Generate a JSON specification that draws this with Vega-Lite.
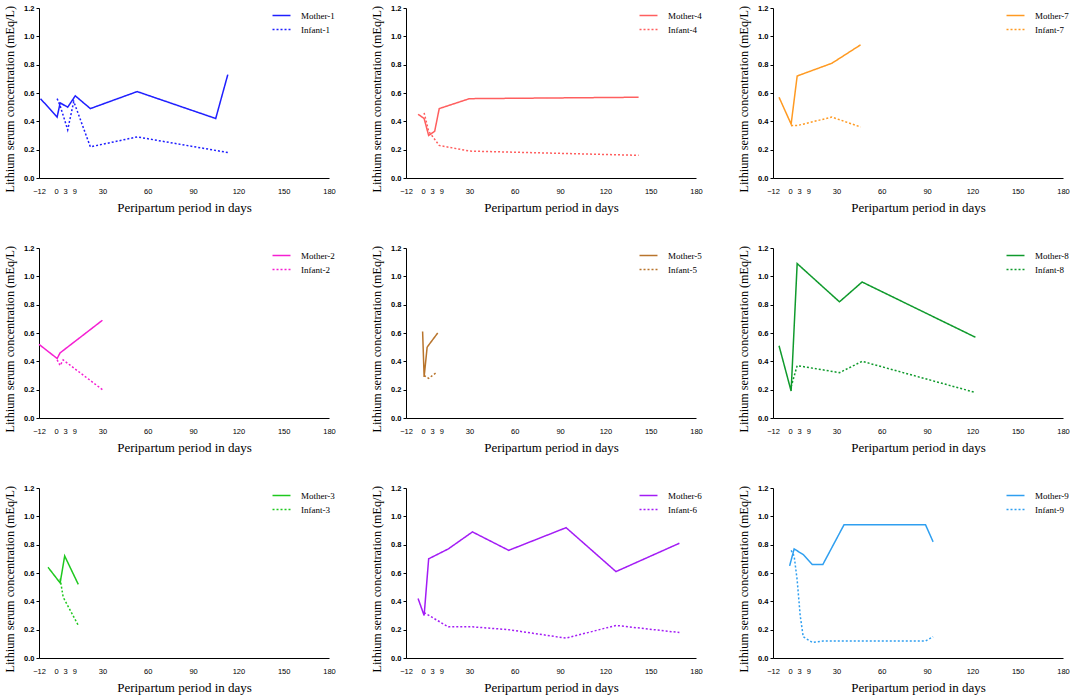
{
  "$schema": "https://vega.github.io/schema/vega-lite/v6.json",
  "padding": {"left": 3, "top": 4, "right": 0, "bottom": 0},
  "data": {"values": [
    {"p":1,"s":"Mother-1","d":-11,"c":0.56},{"p":1,"s":"Mother-1","d":0,"c":0.43},{"p":1,"s":"Mother-1","d":2,"c":0.53},{"p":1,"s":"Mother-1","d":7,"c":0.50},{"p":1,"s":"Mother-1","d":12,"c":0.58},{"p":1,"s":"Mother-1","d":22,"c":0.49},{"p":1,"s":"Mother-1","d":53,"c":0.61},{"p":1,"s":"Mother-1","d":105,"c":0.42},{"p":1,"s":"Mother-1","d":113,"c":0.73},
    {"p":1,"s":"Infant-1","d":0,"c":0.56},{"p":1,"s":"Infant-1","d":2,"c":0.51},{"p":1,"s":"Infant-1","d":7,"c":0.34},{"p":1,"s":"Infant-1","d":11,"c":0.54},{"p":1,"s":"Infant-1","d":22,"c":0.22},{"p":1,"s":"Infant-1","d":53,"c":0.29},{"p":1,"s":"Infant-1","d":113,"c":0.18},
    {"p":4,"s":"Mother-4","d":-4,"c":0.45},{"p":4,"s":"Mother-4","d":0,"c":0.42},{"p":4,"s":"Mother-4","d":3,"c":0.30},{"p":4,"s":"Mother-4","d":7,"c":0.33},{"p":4,"s":"Mother-4","d":10,"c":0.49},{"p":4,"s":"Mother-4","d":30,"c":0.56},{"p":4,"s":"Mother-4","d":142,"c":0.57},
    {"p":4,"s":"Infant-4","d":0,"c":0.46},{"p":4,"s":"Infant-4","d":3,"c":0.33},{"p":4,"s":"Infant-4","d":10,"c":0.23},{"p":4,"s":"Infant-4","d":30,"c":0.19},{"p":4,"s":"Infant-4","d":142,"c":0.16},
    {"p":7,"s":"Mother-7","d":-8,"c":0.57},{"p":7,"s":"Mother-7","d":0,"c":0.38},{"p":7,"s":"Mother-7","d":4,"c":0.72},{"p":7,"s":"Mother-7","d":27,"c":0.81},{"p":7,"s":"Mother-7","d":46,"c":0.94},
    {"p":7,"s":"Infant-7","d":0,"c":0.37},{"p":7,"s":"Infant-7","d":4,"c":0.37},{"p":7,"s":"Infant-7","d":27,"c":0.43},{"p":7,"s":"Infant-7","d":46,"c":0.36},
    {"p":2,"s":"Mother-2","d":-12,"c":0.52},{"p":2,"s":"Mother-2","d":0,"c":0.42},{"p":2,"s":"Mother-2","d":2,"c":0.46},{"p":2,"s":"Mother-2","d":30,"c":0.69},
    {"p":2,"s":"Infant-2","d":0,"c":0.41},{"p":2,"s":"Infant-2","d":2,"c":0.37},{"p":2,"s":"Infant-2","d":4,"c":0.41},{"p":2,"s":"Infant-2","d":30,"c":0.20},
    {"p":5,"s":"Mother-5","d":-1,"c":0.61},{"p":5,"s":"Mother-5","d":0,"c":0.29},{"p":5,"s":"Mother-5","d":2,"c":0.50},{"p":5,"s":"Mother-5","d":9,"c":0.60},
    {"p":5,"s":"Infant-5","d":0,"c":0.30},{"p":5,"s":"Infant-5","d":3,"c":0.28},{"p":5,"s":"Infant-5","d":8,"c":0.32},
    {"p":8,"s":"Mother-8","d":-8,"c":0.51},{"p":8,"s":"Mother-8","d":0,"c":0.19},{"p":8,"s":"Mother-8","d":4,"c":1.09},{"p":8,"s":"Mother-8","d":32,"c":0.82},{"p":8,"s":"Mother-8","d":47,"c":0.96},{"p":8,"s":"Mother-8","d":122,"c":0.57},
    {"p":8,"s":"Infant-8","d":0,"c":0.22},{"p":8,"s":"Infant-8","d":4,"c":0.37},{"p":8,"s":"Infant-8","d":32,"c":0.32},{"p":8,"s":"Infant-8","d":47,"c":0.40},{"p":8,"s":"Infant-8","d":122,"c":0.18},
    {"p":3,"s":"Mother-3","d":-6,"c":0.64},{"p":3,"s":"Mother-3","d":2,"c":0.53},{"p":3,"s":"Mother-3","d":5,"c":0.72},{"p":3,"s":"Mother-3","d":14,"c":0.52},
    {"p":3,"s":"Infant-3","d":2,"c":0.56},{"p":3,"s":"Infant-3","d":4,"c":0.43},{"p":3,"s":"Infant-3","d":14,"c":0.23},
    {"p":6,"s":"Mother-6","d":-4,"c":0.42},{"p":6,"s":"Mother-6","d":0,"c":0.30},{"p":6,"s":"Mother-6","d":3,"c":0.70},{"p":6,"s":"Mother-6","d":16,"c":0.77},{"p":6,"s":"Mother-6","d":32,"c":0.89},{"p":6,"s":"Mother-6","d":56,"c":0.76},{"p":6,"s":"Mother-6","d":94,"c":0.92},{"p":6,"s":"Mother-6","d":127,"c":0.61},{"p":6,"s":"Mother-6","d":169,"c":0.81},
    {"p":6,"s":"Infant-6","d":0,"c":0.32},{"p":6,"s":"Infant-6","d":16,"c":0.22},{"p":6,"s":"Infant-6","d":32,"c":0.22},{"p":6,"s":"Infant-6","d":56,"c":0.20},{"p":6,"s":"Infant-6","d":94,"c":0.14},{"p":6,"s":"Infant-6","d":127,"c":0.23},{"p":6,"s":"Infant-6","d":169,"c":0.18},
    {"p":9,"s":"Mother-9","d":-1,"c":0.65},{"p":9,"s":"Mother-9","d":2,"c":0.77},{"p":9,"s":"Mother-9","d":8,"c":0.73},{"p":9,"s":"Mother-9","d":14,"c":0.66},{"p":9,"s":"Mother-9","d":21,"c":0.66},{"p":9,"s":"Mother-9","d":35,"c":0.94},{"p":9,"s":"Mother-9","d":89,"c":0.94},{"p":9,"s":"Mother-9","d":94,"c":0.82},
    {"p":9,"s":"Infant-9","d":0,"c":0.76},{"p":9,"s":"Infant-9","d":2,"c":0.72},{"p":9,"s":"Infant-9","d":4,"c":0.55},{"p":9,"s":"Infant-9","d":6,"c":0.30},{"p":9,"s":"Infant-9","d":8,"c":0.15},{"p":9,"s":"Infant-9","d":14,"c":0.11},{"p":9,"s":"Infant-9","d":21,"c":0.12},{"p":9,"s":"Infant-9","d":89,"c":0.12},{"p":9,"s":"Infant-9","d":94,"c":0.15}
  ]},
  "columns": 3,
  "spacing": {"row": 70, "column": 77},
  "bounds": "flush",
  "resolve": {"scale": {"x": "independent", "y": "independent", "color": "independent", "strokeDash": "independent"}},
  "concat": [
    {"width": 290, "height": 170, "transform": [{"filter": "datum.p == 1"}], "mark": {"type": "line", "strokeWidth": 1.5},
     "encoding": {
      "x": {"field": "d", "type": "quantitative", "scale": {"domain": [-12, 180], "nice": false, "zero": false}, "axis": {"values": [-12,0,3,9,30,60,90,120,150,180], "title": "Peripartum period in days"}},
      "y": {"field": "c", "type": "quantitative", "scale": {"domain": [0, 1.2], "nice": false}, "axis": {"values": [0,0.2,0.4,0.6,0.8,1.0,1.2], "format": ".1f", "title": "Lithium serum concentration (mEq/L)"}},
      "color": {"field": "s", "type": "nominal", "scale": {"domain": ["Mother-1","Infant-1"], "range": ["#1f1fff","#1f1fff"]}, "legend": {"title": null}},
      "strokeDash": {"field": "s", "type": "nominal", "scale": {"domain": ["Mother-1","Infant-1"], "range": [[1,0],[2,2]]}, "legend": {"title": null}}}},
    {"width": 290, "height": 170, "transform": [{"filter": "datum.p == 4"}], "mark": {"type": "line", "strokeWidth": 1.5},
     "encoding": {
      "x": {"field": "d", "type": "quantitative", "scale": {"domain": [-12, 180], "nice": false, "zero": false}, "axis": {"values": [-12,0,3,9,30,60,90,120,150,180], "title": "Peripartum period in days"}},
      "y": {"field": "c", "type": "quantitative", "scale": {"domain": [0, 1.2], "nice": false}, "axis": {"values": [0,0.2,0.4,0.6,0.8,1.0,1.2], "format": ".1f", "title": "Lithium serum concentration (mEq/L)"}},
      "color": {"field": "s", "type": "nominal", "scale": {"domain": ["Mother-4","Infant-4"], "range": ["#ff5f5f","#ff5f5f"]}, "legend": {"title": null}},
      "strokeDash": {"field": "s", "type": "nominal", "scale": {"domain": ["Mother-4","Infant-4"], "range": [[1,0],[2,2]]}, "legend": {"title": null}}}},
    {"width": 290, "height": 170, "transform": [{"filter": "datum.p == 7"}], "mark": {"type": "line", "strokeWidth": 1.5},
     "encoding": {
      "x": {"field": "d", "type": "quantitative", "scale": {"domain": [-12, 180], "nice": false, "zero": false}, "axis": {"values": [-12,0,3,9,30,60,90,120,150,180], "title": "Peripartum period in days"}},
      "y": {"field": "c", "type": "quantitative", "scale": {"domain": [0, 1.2], "nice": false}, "axis": {"values": [0,0.2,0.4,0.6,0.8,1.0,1.2], "format": ".1f", "title": "Lithium serum concentration (mEq/L)"}},
      "color": {"field": "s", "type": "nominal", "scale": {"domain": ["Mother-7","Infant-7"], "range": ["#ff9a22","#ff9a22"]}, "legend": {"title": null}},
      "strokeDash": {"field": "s", "type": "nominal", "scale": {"domain": ["Mother-7","Infant-7"], "range": [[1,0],[2,2]]}, "legend": {"title": null}}}},
    {"width": 290, "height": 170, "transform": [{"filter": "datum.p == 2"}], "mark": {"type": "line", "strokeWidth": 1.5},
     "encoding": {
      "x": {"field": "d", "type": "quantitative", "scale": {"domain": [-12, 180], "nice": false, "zero": false}, "axis": {"values": [-12,0,3,9,30,60,90,120,150,180], "title": "Peripartum period in days"}},
      "y": {"field": "c", "type": "quantitative", "scale": {"domain": [0, 1.2], "nice": false}, "axis": {"values": [0,0.2,0.4,0.6,0.8,1.0,1.2], "format": ".1f", "title": "Lithium serum concentration (mEq/L)"}},
      "color": {"field": "s", "type": "nominal", "scale": {"domain": ["Mother-2","Infant-2"], "range": ["#f51fd2","#f51fd2"]}, "legend": {"title": null}},
      "strokeDash": {"field": "s", "type": "nominal", "scale": {"domain": ["Mother-2","Infant-2"], "range": [[1,0],[2,2]]}, "legend": {"title": null}}}},
    {"width": 290, "height": 170, "transform": [{"filter": "datum.p == 5"}], "mark": {"type": "line", "strokeWidth": 1.5},
     "encoding": {
      "x": {"field": "d", "type": "quantitative", "scale": {"domain": [-12, 180], "nice": false, "zero": false}, "axis": {"values": [-12,0,3,9,30,60,90,120,150,180], "title": "Peripartum period in days"}},
      "y": {"field": "c", "type": "quantitative", "scale": {"domain": [0, 1.2], "nice": false}, "axis": {"values": [0,0.2,0.4,0.6,0.8,1.0,1.2], "format": ".1f", "title": "Lithium serum concentration (mEq/L)"}},
      "color": {"field": "s", "type": "nominal", "scale": {"domain": ["Mother-5","Infant-5"], "range": ["#b8742c","#b8742c"]}, "legend": {"title": null}},
      "strokeDash": {"field": "s", "type": "nominal", "scale": {"domain": ["Mother-5","Infant-5"], "range": [[1,0],[2,2]]}, "legend": {"title": null}}}},
    {"width": 290, "height": 170, "transform": [{"filter": "datum.p == 8"}], "mark": {"type": "line", "strokeWidth": 1.5},
     "encoding": {
      "x": {"field": "d", "type": "quantitative", "scale": {"domain": [-12, 180], "nice": false, "zero": false}, "axis": {"values": [-12,0,3,9,30,60,90,120,150,180], "title": "Peripartum period in days"}},
      "y": {"field": "c", "type": "quantitative", "scale": {"domain": [0, 1.2], "nice": false}, "axis": {"values": [0,0.2,0.4,0.6,0.8,1.0,1.2], "format": ".1f", "title": "Lithium serum concentration (mEq/L)"}},
      "color": {"field": "s", "type": "nominal", "scale": {"domain": ["Mother-8","Infant-8"], "range": ["#0f9a2c","#0f9a2c"]}, "legend": {"title": null}},
      "strokeDash": {"field": "s", "type": "nominal", "scale": {"domain": ["Mother-8","Infant-8"], "range": [[1,0],[2,2]]}, "legend": {"title": null}}}},
    {"width": 290, "height": 170, "transform": [{"filter": "datum.p == 3"}], "mark": {"type": "line", "strokeWidth": 1.5},
     "encoding": {
      "x": {"field": "d", "type": "quantitative", "scale": {"domain": [-12, 180], "nice": false, "zero": false}, "axis": {"values": [-12,0,3,9,30,60,90,120,150,180], "title": "Peripartum period in days"}},
      "y": {"field": "c", "type": "quantitative", "scale": {"domain": [0, 1.2], "nice": false}, "axis": {"values": [0,0.2,0.4,0.6,0.8,1.0,1.2], "format": ".1f", "title": "Lithium serum concentration (mEq/L)"}},
      "color": {"field": "s", "type": "nominal", "scale": {"domain": ["Mother-3","Infant-3"], "range": ["#1ec81e","#1ec81e"]}, "legend": {"title": null}},
      "strokeDash": {"field": "s", "type": "nominal", "scale": {"domain": ["Mother-3","Infant-3"], "range": [[1,0],[2,2]]}, "legend": {"title": null}}}},
    {"width": 290, "height": 170, "transform": [{"filter": "datum.p == 6"}], "mark": {"type": "line", "strokeWidth": 1.5},
     "encoding": {
      "x": {"field": "d", "type": "quantitative", "scale": {"domain": [-12, 180], "nice": false, "zero": false}, "axis": {"values": [-12,0,3,9,30,60,90,120,150,180], "title": "Peripartum period in days"}},
      "y": {"field": "c", "type": "quantitative", "scale": {"domain": [0, 1.2], "nice": false}, "axis": {"values": [0,0.2,0.4,0.6,0.8,1.0,1.2], "format": ".1f", "title": "Lithium serum concentration (mEq/L)"}},
      "color": {"field": "s", "type": "nominal", "scale": {"domain": ["Mother-6","Infant-6"], "range": ["#a31cf5","#a31cf5"]}, "legend": {"title": null}},
      "strokeDash": {"field": "s", "type": "nominal", "scale": {"domain": ["Mother-6","Infant-6"], "range": [[1,0],[2,2]]}, "legend": {"title": null}}}},
    {"width": 290, "height": 170, "transform": [{"filter": "datum.p == 9"}], "mark": {"type": "line", "strokeWidth": 1.5},
     "encoding": {
      "x": {"field": "d", "type": "quantitative", "scale": {"domain": [-12, 180], "nice": false, "zero": false}, "axis": {"values": [-12,0,3,9,30,60,90,120,150,180], "title": "Peripartum period in days"}},
      "y": {"field": "c", "type": "quantitative", "scale": {"domain": [0, 1.2], "nice": false}, "axis": {"values": [0,0.2,0.4,0.6,0.8,1.0,1.2], "format": ".1f", "title": "Lithium serum concentration (mEq/L)"}},
      "color": {"field": "s", "type": "nominal", "scale": {"domain": ["Mother-9","Infant-9"], "range": ["#2f9ff0","#2f9ff0"]}, "legend": {"title": null}},
      "strokeDash": {"field": "s", "type": "nominal", "scale": {"domain": ["Mother-9","Infant-9"], "range": [[1,0],[2,2]]}, "legend": {"title": null}}}}
  ],
  "config": {
    "view": {"stroke": null},
    "font": "Liberation Sans",
    "axis": {"grid": false, "domainColor": "#000", "domainWidth": 1, "tickColor": "#000", "tickWidth": 1, "labelFont": "Liberation Sans", "labelFontSize": 7.5, "labelColor": "#000", "titleFont": "Liberation Serif", "titleFontWeight": "normal", "titleFontSize": 13, "titleColor": "#000"},
    "axisX": {"ticks": false, "labelPadding": 9, "labelFlush": false, "labelOverlap": false, "titlePadding": 7,
      "labelOffset": {"condition": [{"test": "datum.value === 0", "value": -1}, {"test": "datum.value === 3 || datum.value === 9", "value": 3.5}], "value": 0}},
    "axisY": {"labelFontWeight": "bold", "tickSize": 3, "labelPadding": 2, "titlePadding": 7, "titleFontSize": 12.2, "titleAlign": "left", "titleY": 184},
    "legend": {"orient": "none", "legendX": 234, "legendY": -1, "padding": 0, "rowPadding": 0, "labelFont": "Liberation Serif", "labelFontSize": 9, "labelColor": "#000", "symbolType": "M-1.16,0H1.16", "symbolSize": 240, "symbolStrokeWidth": 1.5, "labelOffset": 11}
  }
}
